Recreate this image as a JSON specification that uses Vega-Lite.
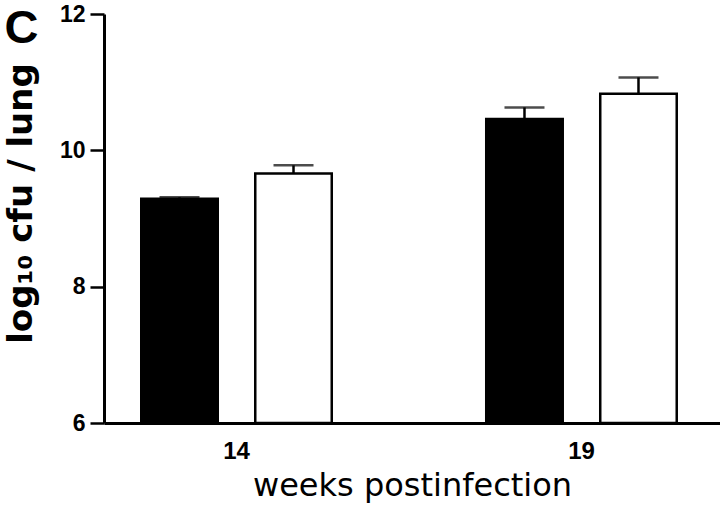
{
  "$schema": "https://vega.github.io/schema/vega-lite/v6.json",
  "width": 616,
  "height": 409,
  "autosize": "none",
  "padding": {"left": 104, "top": 14, "right": 0, "bottom": 92},
  "background": "white",
  "title": {"text": "C", "anchor": "start", "frame": "bounds", "font": "Liberation Sans", "fontSize": 47, "fontWeight": "bold", "color": "black", "offset": 0, "dy": 50},
  "data": {
    "values": [
      {"week": "14", "group": "A", "value": 9.29, "upper": 9.31},
      {"week": "14", "group": "B", "value": 9.66, "upper": 9.78},
      {"week": "19", "group": "A", "value": 10.46, "upper": 10.63},
      {"week": "19", "group": "B", "value": 10.83, "upper": 11.07}
    ]
  },
  "config": {
    "view": {"stroke": null},
    "axis": {"domainColor": "black", "tickColor": "black", "labelColor": "black", "titleColor": "black", "grid": false}
  },
  "encoding": {
    "x": {
      "field": "week", "type": "nominal",
      "scale": {"paddingInner": 0.4478, "paddingOuter": 0.1167, "align": 0.4627},
      "axis": {"labelAngle": 0, "ticks": false, "domainWidth": 3, "labelFont": "Liberation Sans", "labelFontSize": 24, "labelFontWeight": "bold", "labelPadding": 16, "title": "weeks postinfection", "titleFont": "DejaVu Sans", "titleFontSize": 32, "titleFontWeight": "normal", "titlePadding": 7}
    },
    "xOffset": {"field": "group", "type": "nominal", "scale": {"paddingInner": 0.329, "paddingOuter": 0}}
  },
  "layer": [
    {
      "mark": {"type": "bar", "stroke": "black", "strokeWidth": 2.5},
      "encoding": {
        "y": {
          "field": "value", "type": "quantitative",
          "scale": {"domain": [6, 12], "nice": false, "zero": false},
          "axis": {"values": [6, 8, 10, 12], "format": "d", "tickSize": 14, "tickWidth": 2.5, "domainWidth": 3, "labelFont": "Liberation Sans", "labelFontSize": 23, "labelFontWeight": "bold", "labelPadding": 5, "title": "log₁₀ cfu / lung", "titleFont": "DejaVu Sans", "titleFontSize": 34, "titleFontWeight": "bold", "titlePadding": 21, "titleY": 189}
        },
        "y2": {"datum": 6},
        "fill": {"field": "group", "type": "nominal", "scale": {"domain": ["A", "B"], "range": ["black", "white"]}, "legend": null}
      }
    },
    {
      "mark": {"type": "rule", "color": "black", "strokeWidth": 2.5},
      "encoding": {
        "y": {"field": "value", "type": "quantitative"},
        "y2": {"field": "upper"}
      }
    },
    {
      "mark": {"type": "tick", "color": "black", "thickness": 2.5, "size": 40},
      "encoding": {
        "y": {"field": "upper", "type": "quantitative"}
      }
    }
  ]
}
